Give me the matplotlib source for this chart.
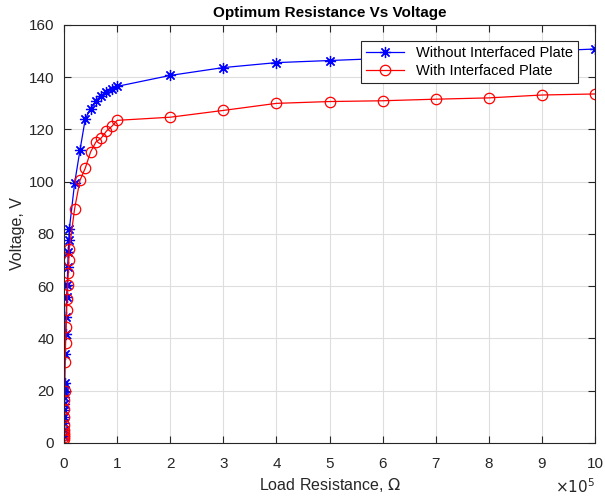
import matplotlib
matplotlib.use("Agg")
import matplotlib.pyplot as plt
from matplotlib.ticker import FuncFormatter, MultipleLocator

plt.rcParams['font.family'] = ['Liberation Sans', 'DejaVu Sans']

# Load resistance (ohm)
resistance = ([100, 200, 300, 400, 500, 600, 700, 800, 900, 1000,
               2000, 3000, 4000, 5000, 6000, 7000, 8000, 9000, 10000,
               20000, 30000, 40000, 50000, 60000, 70000, 80000, 90000, 100000,
               200000, 300000, 400000, 500000, 600000, 700000, 800000, 900000, 1000000])

v_without = [2.5, 5.0, 7.5, 10.0, 12.5, 15.0, 17.5, 19.5, 21.5, 23.0,
             33.9, 41.9, 48.3, 55.9, 60.4, 67.4, 73.1, 77.6, 81.8,
             99.5, 112.0, 124.0, 128.0, 131.0, 133.0, 134.5, 135.6, 136.5,
             140.7, 143.7, 145.6, 146.4, 147.2, 148.3, 149.2, 150.0, 150.8]

v_with = [1.5, 2.2, 3.0, 3.8, 4.8, 7.0, 10.0, 13.0, 16.5, 20.0,
          31.1, 38.1, 44.5, 50.8, 55.3, 60.4, 64.9, 70.0, 74.4,
          89.7, 100.5, 105.2, 111.4, 115.2, 116.7, 119.4, 121.2, 123.5,
          124.7, 127.3, 130.0, 130.7, 131.0, 131.6, 132.1, 133.2, 133.6]

labels = ['Without Interfaced Plate', 'With Interfaced Plate']

fig = plt.figure(figsize=(6.05, 4.97), dpi=100)
ax = fig.add_axes([0.1058, 0.1087, 0.8777, 0.8410])

ax.plot(resistance, v_without, '-', color='#0000ff', lw=0.9, marker=(8, 2, 0),
        markersize=8, markeredgewidth=0.9, label=labels[0])
ax.plot(resistance, v_with, '-', color='#ff0000', lw=0.9, marker='o',
        markersize=7.5, markerfacecolor='none', markeredgewidth=0.9, label=labels[1])

ax.set_xlim(0, 1e6)
ax.set_ylim(0, 160)
ax.xaxis.set_major_locator(MultipleLocator(1e5))
ax.yaxis.set_major_locator(MultipleLocator(20))
ax.xaxis.set_major_formatter(FuncFormatter(lambda v, p: f"{v/1e5:g}"))

ax.grid(True, color='#dedede', lw=0.8)
ax.set_axisbelow(True)
for s in ax.spines.values():
    s.set_color('#262626')
    s.set_linewidth(0.8)
ax.tick_params(direction='in', top=True, right=True, length=5, width=0.8,
               colors='#262626', labelsize=11)
ax.tick_params(axis='x', pad=10)
ax.tick_params(axis='y', pad=7)

ax.set_title('Optimum Resistance Vs Voltage', fontsize=11, fontweight='bold', pad=6)
ax.set_xlabel('Load Resistance, $\\Omega$', fontsize=11.5, color='#262626', labelpad=4)
ax.set_ylabel('Voltage, V', fontsize=11.5, color='#262626', labelpad=3)
ax.text(1.0, -0.105, '$\\times10^5$', transform=ax.transAxes, ha='right', va='center',
        fontsize=11, color='#262626')

leg = ax.legend(loc='upper right', bbox_to_anchor=(0.968, 0.962), fontsize=10.5,
                frameon=True, fancybox=False, framealpha=1, edgecolor='#262626',
                handlelength=2.6, borderpad=0.35, labelspacing=0.25, borderaxespad=0)
leg.get_frame().set_linewidth(0.8)

fig.savefig('out.png', dpi=100)
